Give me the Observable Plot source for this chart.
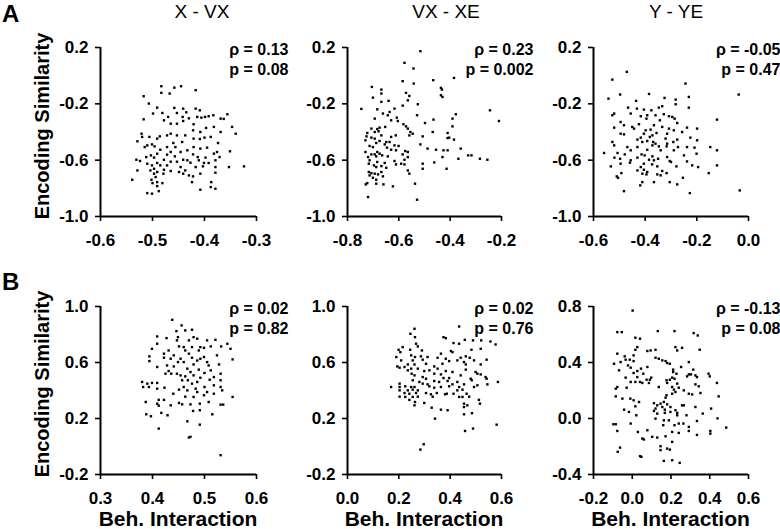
<!DOCTYPE html>
<html><head><meta charset="utf-8">
<script src="https://cdn.jsdelivr.net/npm/d3@7"></script>
<script src="https://cdn.jsdelivr.net/npm/@observablehq/plot@0.6"></script>
<style>
html,body{margin:0;padding:0;background:#fff;}
#chart{position:relative;width:780px;height:529px;overflow:hidden;font-family:"Liberation Sans",Arial,sans-serif;}
#chart svg{position:absolute;}
</style></head><body><div id="chart"></div>
<script>
const panelTitles = ["X - VX", "VX - XE", "Y - YE"];
const rowLetters = ["A", "B"];
const yAxisTitle = "Encoding Similarity";
const xAxisTitle = "Beh. Interaction";
const rhoLabels = ["ρ = 0.13", "ρ = 0.23", "ρ = -0.05", "ρ = 0.02", "ρ = 0.02", "ρ = -0.13"];
const pLabels = ["p = 0.08", "p = 0.002", "p = 0.47", "p = 0.82", "p = 0.76", "p = 0.08"];
const xDomains = [[-0.6, -0.3], [-0.8, -0.2], [-0.6, 0.0], [0.3, 0.6], [0.0, 0.6], [-0.2, 0.6]];
const xTickValues = [[-0.6, -0.5, -0.4, -0.3], [-0.8, -0.6, -0.4, -0.2], [-0.6, -0.4, -0.2, 0.0], [0.3, 0.4, 0.5, 0.6], [0.0, 0.2, 0.4, 0.6], [-0.2, 0.0, 0.2, 0.4, 0.6]];
const yDomains = [[-1.0, 0.2], [-1.0, 0.2], [-1.0, 0.2], [-0.2, 1.0], [-0.2, 1.0], [-0.4, 0.8]];
const yTickValues = [[-1.0, -0.6, -0.2, 0.2], [-1.0, -0.6, -0.2, 0.2], [-1.0, -0.6, -0.2, 0.2], [-0.2, 0.2, 0.6, 1.0], [-0.2, 0.2, 0.6, 1.0], [-0.4, 0.0, 0.4, 0.8]];

const pointsXVX = [[-0.483,-0.075],[-0.458,-0.085],[-0.445,-0.075],[-0.417,-0.103],[-0.483,-0.122],[-0.467,-0.127],[-0.517,-0.146],[-0.507,-0.198],[-0.491,-0.227],[-0.458,-0.229],[-0.441,-0.234],[-0.417,-0.234],[-0.409,-0.246],[-0.481,-0.265],[-0.453,-0.265],[-0.435,-0.260],[-0.499,-0.269],[-0.356,-0.274],[-0.383,-0.281],[-0.392,-0.288],[-0.399,-0.293],[-0.406,-0.298],[-0.414,-0.293],[-0.430,-0.303],[-0.442,-0.293],[-0.470,-0.293],[-0.517,-0.310],[-0.478,-0.317],[-0.441,-0.322],[-0.453,-0.341],[-0.465,-0.341],[-0.421,-0.345],[-0.369,-0.305],[-0.363,-0.307],[-0.347,-0.364],[-0.397,-0.371],[-0.382,-0.364],[-0.369,-0.400],[-0.340,-0.412],[-0.408,-0.400],[-0.422,-0.388],[-0.465,-0.412],[-0.472,-0.424],[-0.453,-0.424],[-0.486,-0.431],[-0.437,-0.424],[-0.491,-0.447],[-0.506,-0.435],[-0.521,-0.412],[-0.520,-0.435],[-0.388,-0.435],[-0.409,-0.450],[-0.400,-0.440],[-0.421,-0.447],[-0.374,-0.478],[-0.529,-0.466],[-0.443,-0.471],[-0.460,-0.478],[-0.501,-0.488],[-0.510,-0.495],[-0.496,-0.502],[-0.515,-0.507],[-0.472,-0.507],[-0.456,-0.507],[-0.421,-0.507],[-0.395,-0.511],[-0.408,-0.518],[-0.485,-0.526],[-0.433,-0.530],[-0.465,-0.542],[-0.446,-0.542],[-0.422,-0.559],[-0.376,-0.542],[-0.382,-0.554],[-0.351,-0.537],[-0.491,-0.554],[-0.503,-0.566],[-0.472,-0.561],[-0.457,-0.573],[-0.413,-0.578],[-0.398,-0.582],[-0.497,-0.582],[-0.512,-0.578],[-0.478,-0.597],[-0.371,-0.578],[-0.441,-0.597],[-0.465,-0.611],[-0.453,-0.611],[-0.491,-0.620],[-0.531,-0.597],[-0.524,-0.606],[-0.433,-0.601],[-0.411,-0.601],[-0.401,-0.620],[-0.379,-0.601],[-0.392,-0.620],[-0.427,-0.618],[-0.510,-0.625],[-0.501,-0.637],[-0.485,-0.637],[-0.472,-0.637],[-0.446,-0.649],[-0.417,-0.649],[-0.403,-0.644],[-0.379,-0.649],[-0.353,-0.649],[-0.324,-0.644],[-0.497,-0.661],[-0.504,-0.673],[-0.478,-0.668],[-0.491,-0.684],[-0.465,-0.677],[-0.437,-0.673],[-0.449,-0.684],[-0.441,-0.696],[-0.430,-0.708],[-0.422,-0.715],[-0.408,-0.696],[-0.379,-0.689],[-0.529,-0.673],[-0.497,-0.696],[-0.494,-0.720],[-0.479,-0.696],[-0.502,-0.739],[-0.491,-0.756],[-0.500,-0.763],[-0.481,-0.763],[-0.539,-0.739],[-0.424,-0.756],[-0.387,-0.756],[-0.388,-0.791],[-0.379,-0.803],[-0.408,-0.810],[-0.491,-0.784],[-0.488,-0.820],[-0.510,-0.834],[-0.501,-0.838]];

const pointsVXXE = [[-0.516,0.174],[-0.578,0.091],[-0.543,0.051],[-0.385,-0.016],[-0.466,-0.032],[-0.585,-0.039],[-0.542,-0.056],[-0.436,-0.087],[-0.432,-0.099],[-0.705,-0.080],[-0.668,-0.099],[-0.668,-0.127],[-0.572,-0.122],[-0.559,-0.144],[-0.436,-0.139],[-0.430,-0.151],[-0.701,-0.156],[-0.640,-0.179],[-0.668,-0.186],[-0.565,-0.175],[-0.526,-0.203],[-0.585,-0.213],[-0.746,-0.236],[-0.245,-0.246],[-0.684,-0.239],[-0.617,-0.234],[-0.636,-0.258],[-0.662,-0.269],[-0.378,-0.274],[-0.529,-0.281],[-0.643,-0.281],[-0.608,-0.298],[-0.694,-0.305],[-0.465,-0.312],[-0.210,-0.322],[-0.391,-0.305],[-0.630,-0.317],[-0.604,-0.322],[-0.498,-0.336],[-0.582,-0.345],[-0.572,-0.360],[-0.391,-0.360],[-0.653,-0.364],[-0.565,-0.376],[-0.707,-0.376],[-0.684,-0.379],[-0.675,-0.369],[-0.723,-0.407],[-0.679,-0.395],[-0.694,-0.400],[-0.468,-0.400],[-0.410,-0.407],[-0.555,-0.400],[-0.559,-0.424],[-0.546,-0.412],[-0.726,-0.431],[-0.668,-0.424],[-0.630,-0.435],[-0.612,-0.424],[-0.707,-0.440],[-0.694,-0.447],[-0.507,-0.431],[-0.410,-0.443],[-0.404,-0.440],[-0.385,-0.454],[-0.730,-0.459],[-0.675,-0.464],[-0.649,-0.471],[-0.636,-0.471],[-0.688,-0.478],[-0.655,-0.488],[-0.516,-0.488],[-0.617,-0.495],[-0.601,-0.499],[-0.714,-0.499],[-0.701,-0.507],[-0.646,-0.511],[-0.359,-0.518],[-0.488,-0.518],[-0.455,-0.526],[-0.426,-0.530],[-0.410,-0.530],[-0.630,-0.526],[-0.611,-0.530],[-0.575,-0.535],[-0.565,-0.542],[-0.730,-0.542],[-0.684,-0.542],[-0.675,-0.554],[-0.707,-0.559],[-0.694,-0.559],[-0.585,-0.559],[-0.665,-0.566],[-0.643,-0.573],[-0.688,-0.573],[-0.720,-0.578],[-0.565,-0.578],[-0.430,-0.578],[-0.330,-0.566],[-0.317,-0.566],[-0.368,-0.590],[-0.284,-0.590],[-0.255,-0.597],[-0.714,-0.601],[-0.617,-0.606],[-0.578,-0.597],[-0.684,-0.613],[-0.655,-0.620],[-0.462,-0.616],[-0.717,-0.625],[-0.611,-0.630],[-0.591,-0.625],[-0.578,-0.630],[-0.507,-0.625],[-0.697,-0.637],[-0.688,-0.649],[-0.668,-0.642],[-0.649,-0.654],[-0.414,-0.661],[-0.507,-0.661],[-0.565,-0.673],[-0.559,-0.696],[-0.717,-0.684],[-0.707,-0.692],[-0.694,-0.696],[-0.681,-0.701],[-0.668,-0.684],[-0.714,-0.708],[-0.662,-0.715],[-0.701,-0.725],[-0.688,-0.739],[-0.723,-0.763],[-0.729,-0.772],[-0.688,-0.767],[-0.660,-0.772],[-0.623,-0.786],[-0.537,-0.767],[-0.720,-0.862],[-0.529,-0.881]];

const pointsYYE = [[-0.471,0.027],[-0.527,-0.028],[-0.244,-0.056],[-0.038,-0.134],[-0.385,-0.130],[-0.497,-0.134],[-0.542,-0.163],[-0.325,-0.158],[-0.231,-0.151],[-0.282,-0.170],[-0.282,-0.203],[-0.435,-0.179],[-0.466,-0.227],[-0.231,-0.227],[-0.432,-0.234],[-0.347,-0.227],[-0.334,-0.217],[-0.405,-0.241],[-0.376,-0.246],[-0.520,-0.269],[-0.527,-0.281],[-0.456,-0.269],[-0.392,-0.281],[-0.360,-0.281],[-0.328,-0.274],[-0.308,-0.288],[-0.295,-0.293],[-0.286,-0.305],[-0.122,-0.312],[-0.417,-0.288],[-0.395,-0.305],[-0.495,-0.329],[-0.482,-0.352],[-0.343,-0.317],[-0.450,-0.364],[-0.443,-0.376],[-0.520,-0.369],[-0.424,-0.345],[-0.366,-0.352],[-0.334,-0.364],[-0.276,-0.336],[-0.238,-0.369],[-0.199,-0.376],[-0.308,-0.376],[-0.398,-0.388],[-0.379,-0.383],[-0.289,-0.388],[-0.257,-0.400],[-0.495,-0.412],[-0.482,-0.417],[-0.405,-0.412],[-0.356,-0.407],[-0.315,-0.412],[-0.372,-0.424],[-0.382,-0.435],[-0.417,-0.440],[-0.430,-0.454],[-0.321,-0.447],[-0.276,-0.454],[-0.225,-0.440],[-0.199,-0.459],[-0.527,-0.471],[-0.392,-0.464],[-0.369,-0.471],[-0.360,-0.483],[-0.411,-0.471],[-0.291,-0.471],[-0.315,-0.483],[-0.520,-0.495],[-0.430,-0.507],[-0.372,-0.495],[-0.347,-0.502],[-0.317,-0.502],[-0.273,-0.507],[-0.238,-0.507],[-0.209,-0.511],[-0.148,-0.507],[-0.469,-0.507],[-0.456,-0.530],[-0.392,-0.526],[-0.340,-0.530],[-0.289,-0.530],[-0.122,-0.530],[-0.559,-0.549],[-0.507,-0.549],[-0.414,-0.559],[-0.402,-0.566],[-0.372,-0.573],[-0.479,-0.559],[-0.201,-0.554],[-0.315,-0.578],[-0.250,-0.566],[-0.519,-0.582],[-0.497,-0.590],[-0.430,-0.582],[-0.350,-0.590],[-0.456,-0.601],[-0.385,-0.597],[-0.366,-0.601],[-0.305,-0.606],[-0.300,-0.613],[-0.238,-0.609],[-0.459,-0.618],[-0.495,-0.625],[-0.405,-0.625],[-0.373,-0.630],[-0.218,-0.637],[-0.122,-0.637],[-0.533,-0.644],[-0.417,-0.649],[-0.353,-0.644],[-0.279,-0.644],[-0.195,-0.649],[-0.405,-0.668],[-0.430,-0.673],[-0.334,-0.677],[-0.392,-0.684],[-0.317,-0.692],[-0.492,-0.692],[-0.411,-0.696],[-0.395,-0.701],[-0.353,-0.701],[-0.154,-0.692],[-0.340,-0.708],[-0.510,-0.715],[-0.505,-0.725],[-0.254,-0.725],[-0.305,-0.756],[-0.276,-0.772],[-0.411,-0.756],[-0.366,-0.756],[-0.419,-0.779],[-0.482,-0.820],[-0.227,-0.834],[-0.034,-0.815]];

const pointsXVXb = [[0.438,0.905],[0.456,0.865],[0.463,0.829],[0.476,0.834],[0.446,0.824],[0.409,0.786],[0.449,0.781],[0.479,0.781],[0.427,0.774],[0.470,0.758],[0.486,0.770],[0.447,0.758],[0.505,0.758],[0.521,0.762],[0.512,0.715],[0.532,0.715],[0.544,0.734],[0.550,0.698],[0.399,0.698],[0.409,0.734],[0.451,0.715],[0.460,0.710],[0.476,0.710],[0.492,0.710],[0.499,0.705],[0.489,0.686],[0.431,0.686],[0.422,0.663],[0.463,0.686],[0.441,0.651],[0.394,0.644],[0.422,0.634],[0.470,0.663],[0.435,0.627],[0.454,0.627],[0.476,0.634],[0.499,0.639],[0.524,0.651],[0.554,0.622],[0.449,0.603],[0.460,0.603],[0.486,0.614],[0.492,0.627],[0.505,0.603],[0.508,0.579],[0.528,0.586],[0.394,0.610],[0.409,0.568],[0.428,0.579],[0.441,0.572],[0.467,0.556],[0.479,0.586],[0.489,0.549],[0.431,0.539],[0.425,0.520],[0.436,0.520],[0.447,0.520],[0.454,0.508],[0.463,0.501],[0.473,0.532],[0.479,0.508],[0.500,0.525],[0.512,0.544],[0.518,0.496],[0.531,0.520],[0.492,0.491],[0.457,0.473],[0.468,0.473],[0.486,0.461],[0.510,0.477],[0.531,0.473],[0.380,0.461],[0.390,0.449],[0.399,0.454],[0.409,0.454],[0.382,0.425],[0.393,0.425],[0.476,0.449],[0.483,0.413],[0.500,0.425],[0.518,0.437],[0.531,0.425],[0.409,0.413],[0.423,0.420],[0.451,0.406],[0.460,0.425],[0.467,0.401],[0.486,0.389],[0.505,0.389],[0.534,0.401],[0.440,0.377],[0.499,0.366],[0.518,0.377],[0.463,0.356],[0.479,0.354],[0.554,0.354],[0.412,0.333],[0.422,0.333],[0.387,0.318],[0.409,0.306],[0.412,0.292],[0.435,0.294],[0.451,0.311],[0.457,0.301],[0.473,0.301],[0.491,0.306],[0.508,0.318],[0.531,0.299],[0.536,0.299],[0.478,0.254],[0.491,0.259],[0.417,0.240],[0.388,0.230],[0.397,0.216],[0.429,0.223],[0.515,0.230],[0.467,0.180],[0.491,0.156],[0.412,0.128],[0.473,0.069],[0.470,0.064],[0.531,-0.062]];

const pointsVXXEb = [[0.435,0.857],[0.261,0.841],[0.245,0.805],[0.263,0.781],[0.374,0.781],[0.383,0.774],[0.457,0.762],[0.489,0.758],[0.521,0.758],[0.557,0.750],[0.577,0.729],[0.413,0.739],[0.435,0.734],[0.267,0.734],[0.274,0.715],[0.215,0.710],[0.244,0.691],[0.199,0.691],[0.206,0.674],[0.290,0.686],[0.403,0.682],[0.483,0.691],[0.519,0.698],[0.364,0.663],[0.409,0.674],[0.248,0.651],[0.286,0.644],[0.263,0.639],[0.190,0.639],[0.312,0.639],[0.351,0.634],[0.383,0.627],[0.441,0.634],[0.461,0.644],[0.476,0.634],[0.542,0.620],[0.209,0.615],[0.254,0.615],[0.293,0.620],[0.428,0.615],[0.396,0.610],[0.454,0.603],[0.493,0.615],[0.235,0.586],[0.261,0.586],[0.306,0.591],[0.370,0.591],[0.338,0.572],[0.351,0.556],[0.461,0.586],[0.519,0.586],[0.194,0.572],[0.203,0.563],[0.222,0.568],[0.248,0.556],[0.235,0.544],[0.274,0.556],[0.299,0.539],[0.319,0.544],[0.383,0.539],[0.409,0.532],[0.461,0.549],[0.499,0.532],[0.250,0.520],[0.261,0.508],[0.338,0.520],[0.364,0.515],[0.441,0.508],[0.506,0.520],[0.519,0.515],[0.293,0.496],[0.306,0.484],[0.374,0.489],[0.396,0.489],[0.480,0.484],[0.538,0.496],[0.542,0.484],[0.254,0.473],[0.280,0.461],[0.338,0.468],[0.357,0.461],[0.390,0.468],[0.428,0.461],[0.484,0.473],[0.586,0.461],[0.545,0.444],[0.203,0.449],[0.293,0.449],[0.312,0.444],[0.409,0.444],[0.454,0.444],[0.506,0.437],[0.170,0.425],[0.203,0.425],[0.225,0.430],[0.248,0.425],[0.261,0.425],[0.319,0.430],[0.338,0.420],[0.364,0.425],[0.396,0.430],[0.435,0.425],[0.493,0.425],[0.203,0.401],[0.235,0.401],[0.254,0.406],[0.274,0.401],[0.428,0.401],[0.448,0.406],[0.222,0.382],[0.241,0.377],[0.267,0.382],[0.306,0.382],[0.348,0.382],[0.380,0.373],[0.387,0.377],[0.413,0.377],[0.464,0.377],[0.203,0.356],[0.225,0.354],[0.254,0.354],[0.274,0.356],[0.325,0.373],[0.332,0.356],[0.435,0.354],[0.448,0.354],[0.474,0.356],[0.512,0.333],[0.241,0.333],[0.263,0.318],[0.299,0.311],[0.454,0.306],[0.467,0.294],[0.516,0.306],[0.454,0.282],[0.261,0.294],[0.328,0.277],[0.364,0.263],[0.390,0.259],[0.454,0.230],[0.485,0.238],[0.341,0.199],[0.581,0.156],[0.489,0.128],[0.458,0.111],[0.297,0.016],[0.284,-0.022]];

const pointsYYEb = [[0.002,0.771],[-0.077,0.617],[-0.054,0.617],[0.132,0.624],[0.218,0.624],[0.317,0.610],[0.338,0.593],[0.016,0.577],[0.040,0.570],[0.223,0.510],[0.257,0.505],[0.232,0.486],[0.348,0.491],[0.026,0.510],[0.016,0.491],[0.078,0.482],[0.095,0.486],[0.120,0.491],[-0.077,0.463],[0.007,0.451],[-0.039,0.444],[-0.034,0.420],[0.120,0.434],[0.137,0.427],[-0.013,0.420],[0.007,0.410],[-0.094,0.391],[-0.060,0.403],[0.155,0.415],[0.172,0.410],[0.180,0.396],[0.194,0.391],[-0.022,0.379],[-0.008,0.363],[0.045,0.356],[0.078,0.368],[0.211,0.349],[0.211,0.332],[0.252,0.368],[0.292,0.403],[0.315,0.349],[0.228,0.320],[0.292,0.315],[0.303,0.315],[0.326,0.308],[0.283,0.301],[0.334,0.296],[0.394,0.320],[0.400,0.301],[-0.068,0.344],[0.026,0.339],[0.007,0.325],[0.057,0.320],[-0.034,0.292],[0.026,0.296],[0.098,0.292],[0.091,0.277],[0.074,0.277],[0.206,0.292],[0.218,0.284],[0.194,0.277],[0.177,0.273],[-0.008,0.261],[0.016,0.261],[0.040,0.261],[0.052,0.254],[0.086,0.254],[0.180,0.254],[0.232,0.249],[0.240,0.220],[0.326,0.244],[0.343,0.230],[0.437,0.254],[0.137,0.225],[0.206,0.225],[-0.077,0.225],[-0.085,0.213],[-0.029,0.220],[0.215,0.206],[0.223,0.189],[0.206,0.177],[0.266,0.201],[0.352,0.182],[0.292,0.177],[0.309,0.172],[0.177,0.166],[0.446,0.158],[0.172,0.149],[-0.085,0.158],[-0.051,0.142],[-0.010,0.142],[0.007,0.130],[0.035,0.118],[0.163,0.118],[0.112,0.109],[0.146,0.106],[0.129,0.094],[0.180,0.101],[0.197,0.082],[0.155,0.082],[0.016,0.087],[-0.017,0.047],[-0.042,0.063],[0.120,0.071],[0.168,0.063],[0.223,0.059],[0.257,0.094],[0.266,0.094],[0.326,0.082],[0.407,0.071],[0.112,0.054],[0.168,0.040],[0.232,0.040],[0.129,0.035],[0.197,0.047],[0.364,0.035],[0.021,0.023],[0.120,-0.001],[0.232,0.023],[0.280,0.023],[0.440,0.001],[0.163,-0.013],[0.189,-0.013],[0.334,-0.018],[0.264,-0.036],[-0.097,-0.041],[-0.085,-0.041],[-0.008,-0.036],[0.160,-0.048],[0.218,-0.048],[0.240,-0.036],[0.292,-0.060],[0.485,-0.065],[-0.077,-0.089],[0.029,-0.096],[0.078,-0.084],[0.206,-0.096],[0.240,-0.103],[0.292,-0.089],[0.403,-0.089],[0.403,-0.108],[0.334,-0.117],[0.103,-0.131],[0.129,-0.136],[0.172,-0.127],[0.052,-0.143],[0.060,-0.150],[0.206,-0.167],[0.146,-0.198],[0.180,-0.215],[0.194,-0.222],[0.146,-0.226],[-0.063,-0.208],[-0.075,-0.238],[0.040,-0.269],[0.047,-0.274],[0.163,-0.303],[0.206,-0.298],[0.245,-0.317]];

const panelPoints = [pointsXVX, pointsVXXE, pointsYYE, pointsXVXb, pointsVXXEb, pointsYYEb];

// layout (pixel frame of each panel)
const colLeft = [100, 347, 593], colRight = [256, 501, 748];
const rowTop = [47, 306], rowBottom = [216, 474];
const FONT = '"Liberation Sans", Arial, sans-serif';
const chart = document.getElementById("chart");
const fmt = d => d.toFixed(1);

for (let i = 0; i < 6; i++) {
  const r = Math.floor(i / 3), c = i % 3;
  const ml = 60, mr = 45, mt = 40, mb = 45;
  const left = colLeft[c], right = colRight[c], top = rowTop[r], bottom = rowBottom[r];
  const [x0] = xDomains[i], [y0] = yDomains[i];
  const svg = Plot.plot({
    width: right - left + ml + mr,
    height: bottom - top + mt + mb,
    marginLeft: ml, marginRight: mr, marginTop: mt, marginBottom: mb,
    style: {background: "none", overflow: "visible", fontFamily: FONT, fontSize: "17px", fontWeight: "bold", color: "#000"},
    x: {domain: xDomains[i]},
    y: {domain: yDomains[i]},
    marks: [
      Plot.axisX(xTickValues[i], {tickSize: 5, tickPadding: 12, tickFormat: fmt, strokeWidth: 1.6, fontSize: 17, label: null}),
      Plot.axisY(yTickValues[i], {tickSize: 5, tickPadding: 7, tickFormat: fmt, strokeWidth: 1.6, fontSize: 17, label: null}),
      Plot.ruleX([x0], {strokeWidth: 2, stroke: "#000"}),
      Plot.ruleY([y0], {strokeWidth: 2, stroke: "#000"}),
      Plot.dot(panelPoints[i], {x: d => d[0], y: d => d[1], r: 1.35, symbol: "square", fill: "#000", stroke: null}),
      Plot.text([rhoLabels[i]], {frameAnchor: "top-right", textAnchor: "end", lineAnchor: "middle", dx: 32, dy: 2, fontSize: 16, fontWeight: "bold", fill: "#000"}),
      Plot.text([pLabels[i]], {frameAnchor: "top-right", textAnchor: "end", lineAnchor: "middle", dx: 32, dy: 22, fontSize: 16, fontWeight: "bold", fill: "#000"})
    ]
  });
  svg.style.left = (left - ml) + "px";
  svg.style.top = (top - mt) + "px";
  svg.style.maxWidth = "none";
  chart.appendChild(svg);
}

// overlay text: titles, row letters, axis titles
const ov = d3.select(chart).append("svg")
  .attr("width", 780).attr("height", 529)
  .style("left", "0px").style("top", "0px").style("overflow", "visible")
  .style("font-family", FONT);
const titleCenters = [202, 446, 676];
panelTitles.forEach((t, c) => {
  ov.append("text").attr("x", titleCenters[c]).attr("y", 18).attr("text-anchor", "middle")
    .attr("font-size", 19).text(t);
});
const letterBase = [22, 290];
rowLetters.forEach((t, r) => {
  ov.append("text").attr("x", 2).attr("y", letterBase[r]).attr("font-size", 24).attr("font-weight", "bold").text(t);
});
const yTitleCenters = [126, 384];
yTitleCenters.forEach(cy => {
  ov.append("text").attr("transform", `translate(49,${cy}) rotate(-90)`).attr("text-anchor", "middle")
    .attr("font-size", 20).attr("font-weight", "bold").text(yAxisTitle);
});
[0, 1, 2].forEach(c => {
  ov.append("text").attr("x", (colLeft[c] + colRight[c]) / 2).attr("y", 526).attr("text-anchor", "middle")
    .attr("font-size", 21).attr("font-weight", "bold").text(xAxisTitle);
});
</script></body></html>
